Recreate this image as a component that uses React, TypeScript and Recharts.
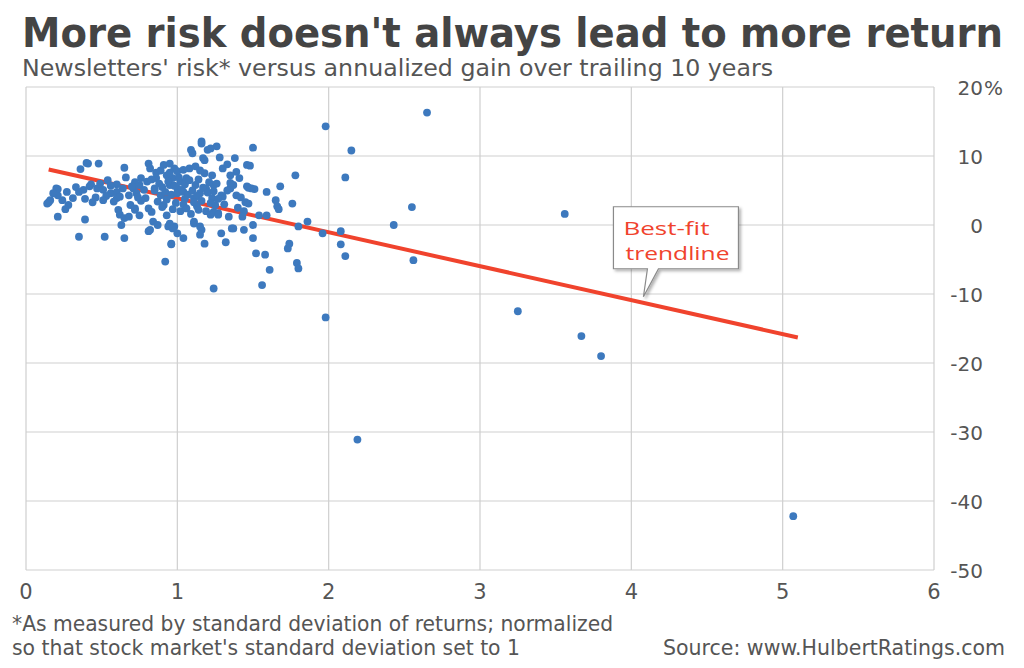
import React from "react";
import { CartesianGrid, ReferenceDot, ReferenceLine, Scatter, ScatterChart, XAxis, YAxis } from "recharts";

// [risk, annualized gain %]
const clusterPoints: [number, number][] = [
  [0.15, 3.3], [0.16, 3.6], [0.14, 3.1], [0.2, 5.3], [0.21, 4.3], [0.21, 5.2], [0.27, 4.8], [0.28, 2.9],
  [0.26, 2.3], [0.21, 1.2], [0.35, 4.8], [0.36, 8.1], [0.41, 8.9], [0.48, 8.9], [0.39, 3.8], [0.39, 0.8],
  [0.35, -1.7], [0.52, -1.7], [0.42, 5.6], [0.47, 5.3], [0.51, 5.1], [0.54, 6.5], [0.56, 4.6], [0.6, 4.8],
  [0.6, 3.9], [0.61, 2.2], [0.62, 1.5], [0.63, 0], [0.65, 8.3], [0.65, 1.0], [0.65, -1.9], [0.69, 2.9],
  [0.68, 1.2], [0.72, 2.2], [0.71, 5.3], [0.73, 4.6], [0.75, 5.8], [0.76, 6.8], [0.8, 6.3], [0.81, 8.9],
  [0.82, 8.2], [0.79, 3.9], [0.81, 2.4], [0.84, 0.5], [0.81, -0.9], [0.87, 0], [0.85, 5.3], [0.86, 6.8],
  [0.89, 4.3], [0.91, 2.9], [0.93, 1.4], [0.94, -0.2], [0.96, -2.7], [0.92, -5.3], [0.98, -0.2], [1.0, -1.2],
  [0.93, 7.2], [0.95, 5.8], [0.98, 8.2], [0.97, 6.8], [1.0, 5.3], [1.02, 6.3], [1.04, 4.8], [1.06, 6.8],
  [1.08, 8.2], [1.09, 10.9], [1.1, 10.4], [1.16, 12.1], [1.17, 9.7], [1.2, 10.9], [1.26, 11.4], [1.22, 11.1],
  [1.16, 11.8], [1.11, 3.9], [1.15, 4.6], [1.13, 2.7], [1.11, 0.5], [1.16, -0.7], [1.15, -1.4], [1.18, -2.7],
  [1.23, 7.2], [1.24, 5.8], [1.19, 5.3], [1.23, 3.9], [1.25, 2.9], [1.27, 1.7], [1.3, 8.2], [1.29, 4.3],
  [1.29, -1.2], [1.36, -0.5], [1.38, 9.7], [1.37, 5.8], [1.39, 7.7], [1.04, -1.9], [0.96, -2.8], [0.72, 2.4],
  [0.75, 1.4], [0.83, 1.9], [0.82, -0.7], [0.95, 0.2], [0.97, -0.5], [1.11, 0.2], [1.15, -0.2], [1.24, 1.9],
  [1.27, 1.5], [1.3, 4.1], [1.35, 5.3], [1.39, 4.3], [1.35, 7.2], [1.18, 9.4], [0.91, 8.7], [0.95, 8.9],
  [1.24, -9.2], [0.4, 9.0], [0.85, 5.0], [0.88, 6.0], [0.9, 5.5], [0.92, 4.8], [0.94, 6.3], [0.96, 4.4],
  [0.98, 5.7], [1.0, 4.6], [1.01, 6.9], [1.03, 5.1], [1.05, 3.8], [1.05, 5.9], [1.07, 4.4], [1.08, 6.5],
  [1.1, 5.0], [1.12, 5.8], [1.13, 4.2], [1.14, 6.6], [1.16, 3.5], [1.17, 5.4], [1.18, 7.5], [1.2, 4.7],
  [1.21, 6.2], [1.22, 3.2], [1.24, 4.9], [1.26, 6.0], [1.27, 3.8], [0.87, 3.4], [0.9, 2.6], [0.93, 3.7],
  [0.97, 2.3], [0.99, 3.2], [1.02, 2.0], [1.04, 3.0], [1.06, 2.4], [1.09, 1.6], [1.11, 3.3], [1.14, 2.2],
  [1.19, 2.0], [1.22, 1.5], [0.83, 6.6], [0.86, 7.6], [0.89, 7.9], [0.95, 7.6], [1.0, 7.8], [1.04, 8.0],
  [1.12, 8.5], [1.15, 7.9], [0.78, 5.1], [0.76, 3.5], [0.74, 4.0], [0.72, 6.2], [0.7, 5.6], [0.68, 4.3],
  [0.66, 6.9], [0.64, 5.3], [0.62, 4.1], [0.6, 5.9], [0.58, 3.4], [0.56, 5.7], [0.53, 4.2], [0.51, 3.6],
  [0.49, 6.0], [0.46, 4.0], [0.44, 3.3], [0.43, 5.9], [0.38, 5.1], [0.33, 5.5], [0.31, 3.9], [0.24, 3.6],
  [0.18, 4.6], [1.31, 3.0], [1.33, 5.0], [1.34, 1.2], [1.35, 6.1], [1.4, 2.5], [1.42, 4.0], [1.44, 2.0],
  [1.32, -2.5], [1.28, 9.8], [1.33, 8.8],
];

const midPoints: [number, number][] = [
  [1.41, 6.8], [1.46, 8.7], [1.46, 5.6], [1.47, 3.1], [1.5, 11.2], [1.49, 5.3], [1.5, 0], [1.5, -1.9],
  [1.52, -4.1], [1.58, -4.3], [1.54, 1.4], [1.59, 1.4], [1.59, 4.8], [1.65, 3.6], [1.66, 2.7], [1.68, 5.6],
  [1.76, 3.1], [1.78, 7.2], [1.61, -6.5], [1.73, -3.4], [1.74, -2.7], [1.79, -5.5], [1.8, -6.3], [1.86, 0.5],
  [1.8, -0.2], [1.56, -8.7], [1.43, 1.2], [1.44, -0.7], [1.37, -0.5], [1.45, 3.3], [1.47, 5.4], [1.67, 2.3],
  [1.96, -1.2], [2.08, -0.9], [2.08, -2.8], [2.11, -4.5], [2.11, 6.9], [2.15, 10.8], [1.98, 14.3], [1.98, -13.4],
  [1.48, 8.6], [1.51, 5.2],
];

const outlierPoints: [number, number][] = [
  [2.65, 16.3], [2.43, 0], [2.55, 2.6], [2.56, -5.1], [3.25, -12.5], [3.56, 1.6], [3.67, -16.1],
  [3.8, -19.0], [2.19, -31.1], [5.07, -42.2],
];

const trendStart = { x: 0.15, y: 8.05 };
const trendEnd = { x: 5.1, y: -16.3 };
const calloutAt = { x: 4.08, y: -10.4 };

const xTicks = [0, 1, 2, 3, 4, 5, 6];
const yTicks = [20, 10, 0, -10, -20, -30, -40, -50];

const data = [...clusterPoints, ...midPoints, ...outlierPoints].map(([risk, gain]) => ({ risk, gain }));

const labelFont = "'DejaVu Sans', sans-serif";
const narrowFont = "'Liberation Sans Narrow', 'DejaVu Sans Condensed', 'Roboto', sans-serif";

const Dot = (props: any) => <circle cx={props.cx} cy={props.cy} r={3.9} fill="#3d79be" />;

const XTick = ({ x, payload }: any) => (
  <text x={x} y={599} textAnchor="middle" fontSize={21} fontFamily={labelFont} fill="#555">
    {payload.value}
  </text>
);

const YTick = ({ y, payload }: any) => (
  <g>
    <text x={983} y={y + 7.5} textAnchor="end" fontSize={20} fontFamily={labelFont} fill="#555">
      {payload.value}
    </text>
    {payload.value === 20 ? (
      <text x={984} y={y + 7.5} textAnchor="start" fontSize={20} fontFamily={labelFont} fill="#555">
        %
      </text>
    ) : null}
  </g>
);

const Callout = ({ cx, cy }: any) => {
  const left = cx - 30;
  const right = cx + 95;
  const top = cy - 90;
  const bottom = cy - 28;
  return (
    <g>
      <path
        d={`M${left},${top} H${right} V${bottom} H${cx + 15} L${cx},${cy} L${cx + 4},${bottom} H${left} Z`}
        fill="#fff"
        stroke="#8a8a8a"
        strokeWidth={1.2}
        filter="url(#calloutShadow)"
      />
      <text
        x={cx - 20}
        y={cy - 62}
        textLength={86}
        lengthAdjust="spacingAndGlyphs"
        fontSize={19}
        fontFamily="'Open Sans', sans-serif"
        fill="#f0432d"
      >
        Best-fit
      </text>
      <text
        x={cx - 18}
        y={cy - 37}
        textLength={104}
        lengthAdjust="spacingAndGlyphs"
        fontSize={19}
        fontFamily="'Open Sans', sans-serif"
        fill="#f0432d"
      >
        trendline
      </text>
    </g>
  );
};

export default function App() {
  return (
    <div style={{ position: "absolute", left: 0, top: 0, width: 1024, height: 668, background: "#fff" }}>
      <svg width={1024} height={668} style={{ position: "absolute", left: 0, top: 0 }}>
        <text
          x={22}
          y={47}
          textLength={981}
          lengthAdjust="spacingAndGlyphs"
          fontSize={41}
          fontWeight={700}
          fontFamily={narrowFont}
          fill="#444"
        >
          More risk doesn't always lead to more return
        </text>
        <text x={22} y={76} textLength={751} lengthAdjust="spacingAndGlyphs" fontSize={23} fontFamily={narrowFont} fill="#555">
          Newsletters' risk* versus annualized gain over trailing 10 years
        </text>
        <text x={12} y={631} textLength={601} lengthAdjust="spacingAndGlyphs" fontSize={22} fontFamily={narrowFont} fill="#555">
          *As measured by standard deviation of returns; normalized
        </text>
        <text x={12} y={655} textLength={508} lengthAdjust="spacingAndGlyphs" fontSize={22} fontFamily={narrowFont} fill="#555">
          so that stock market's standard deviation set to 1
        </text>
        <text x={663} y={655} textLength={342} lengthAdjust="spacingAndGlyphs" fontSize={22} fontFamily={narrowFont} fill="#555">
          Source: www.HulbertRatings.com
        </text>
      </svg>
      <div style={{ position: "absolute", left: 0, top: 0 }}>
        <ScatterChart width={1024} height={668} margin={{ top: 87, left: 26, right: 0, bottom: 0 }}>
          <defs>
            <filter id="calloutShadow" x="-20%" y="-20%" width="150%" height="150%">
              <feDropShadow dx={2} dy={2} stdDeviation={1.5} floodColor="#000" floodOpacity={0.3} />
            </filter>
          </defs>
          <CartesianGrid stroke="#cfcfcf" strokeWidth={1.2} />
          <XAxis
            type="number"
            dataKey="risk"
            domain={[0, 6]}
            ticks={xTicks}
            interval={0}
            axisLine={false}
            tickLine={false}
            height={98}
            tick={<XTick />}
          />
          <YAxis
            type="number"
            dataKey="gain"
            orientation="right"
            domain={[-50, 20]}
            ticks={yTicks}
            interval={0}
            axisLine={false}
            tickLine={false}
            width={90}
            tick={<YTick />}
          />
          <Scatter data={data} shape={<Dot />} isAnimationActive={false} />
          <ReferenceLine
            segment={[trendStart, trendEnd]}
            stroke="#f0432d"
            strokeWidth={4}
            ifOverflow="visible"
          />
          <ReferenceDot x={calloutAt.x} y={calloutAt.y} r={0} shape={<Callout />} ifOverflow="visible" />
        </ScatterChart>
      </div>
    </div>
  );
}
